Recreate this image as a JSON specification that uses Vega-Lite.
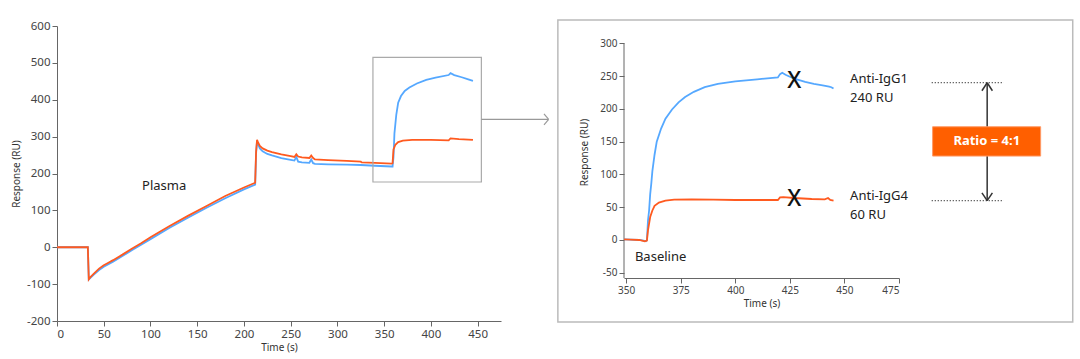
{
  "$schema": "https://vega.github.io/schema/vega-lite/v6.json",
  "background": "white",
  "padding": {"left": 11, "top": 19, "right": 0, "bottom": 0},
  "autosize": {"type": "pad"},
  "spacing": 7,
  "config": {
    "view": {"stroke": null},
    "font": "Noto Sans",
    "axis": {"grid": false, "domainColor": "#666", "tickColor": "#666", "labelColor": "#444", "titleColor": "#333", "labelFont": "Noto Sans", "titleFont": "Noto Sans", "titleFontWeight": "normal", "titleFontSize": 10, "tickSize": 5, "labelPadding": 2, "labelExpr": "datum.value < 0 ? '-' + abs(datum.value) : '' + datum.value"}
  },
  "datasets": {
    "left": [
      {"t": 0, "v": 0, "s": "IgG1"}, {"t": 33, "v": 0, "s": "IgG1"}, {"t": 34, "v": -87, "s": "IgG1"}, {"t": 36, "v": -82, "s": "IgG1"}, {"t": 40, "v": -73, "s": "IgG1"}, {"t": 45, "v": -62, "s": "IgG1"}, {"t": 50, "v": -53, "s": "IgG1"}, {"t": 60, "v": -39, "s": "IgG1"}, {"t": 70, "v": -24, "s": "IgG1"}, {"t": 80, "v": -8, "s": "IgG1"}, {"t": 90, "v": 7, "s": "IgG1"}, {"t": 100, "v": 22, "s": "IgG1"}, {"t": 120, "v": 52, "s": "IgG1"}, {"t": 140, "v": 80, "s": "IgG1"}, {"t": 160, "v": 107, "s": "IgG1"}, {"t": 180, "v": 133, "s": "IgG1"}, {"t": 200, "v": 157, "s": "IgG1"}, {"t": 212, "v": 170, "s": "IgG1"}, {"t": 213, "v": 255, "s": "IgG1"}, {"t": 214, "v": 287, "s": "IgG1"}, {"t": 215, "v": 280, "s": "IgG1"}, {"t": 217, "v": 268, "s": "IgG1"}, {"t": 220, "v": 260, "s": "IgG1"}, {"t": 225, "v": 253, "s": "IgG1"}, {"t": 230, "v": 249, "s": "IgG1"}, {"t": 240, "v": 242, "s": "IgG1"}, {"t": 250, "v": 237, "s": "IgG1"}, {"t": 254, "v": 235, "s": "IgG1"}, {"t": 256, "v": 245, "s": "IgG1"}, {"t": 258, "v": 232, "s": "IgG1"}, {"t": 262, "v": 230, "s": "IgG1"}, {"t": 270, "v": 229, "s": "IgG1"}, {"t": 272, "v": 238, "s": "IgG1"}, {"t": 274, "v": 228, "s": "IgG1"}, {"t": 276, "v": 226, "s": "IgG1"}, {"t": 290, "v": 225, "s": "IgG1"}, {"t": 310, "v": 224, "s": "IgG1"}, {"t": 325, "v": 223, "s": "IgG1"}, {"t": 340, "v": 221, "s": "IgG1"}, {"t": 358, "v": 219, "s": "IgG1"}, {"t": 359, "v": 219, "s": "IgG1"}, {"t": 360, "v": 245, "s": "IgG1"}, {"t": 361, "v": 309, "s": "IgG1"}, {"t": 363, "v": 360, "s": "IgG1"}, {"t": 365, "v": 392, "s": "IgG1"}, {"t": 368, "v": 410, "s": "IgG1"}, {"t": 372, "v": 424, "s": "IgG1"}, {"t": 377, "v": 433, "s": "IgG1"}, {"t": 385, "v": 444, "s": "IgG1"}, {"t": 395, "v": 454, "s": "IgG1"}, {"t": 405, "v": 460, "s": "IgG1"}, {"t": 419, "v": 467, "s": "IgG1"}, {"t": 421, "v": 472, "s": "IgG1"}, {"t": 425, "v": 467, "s": "IgG1"}, {"t": 433, "v": 461, "s": "IgG1"}, {"t": 440, "v": 455, "s": "IgG1"}, {"t": 445, "v": 451, "s": "IgG1"},
      {"t": 0, "v": 0, "s": "IgG4"}, {"t": 33, "v": 0, "s": "IgG4"}, {"t": 34, "v": -87, "s": "IgG4"}, {"t": 36, "v": -80, "s": "IgG4"}, {"t": 40, "v": -70, "s": "IgG4"}, {"t": 45, "v": -58, "s": "IgG4"}, {"t": 50, "v": -49, "s": "IgG4"}, {"t": 55, "v": -42, "s": "IgG4"}, {"t": 60, "v": -35, "s": "IgG4"}, {"t": 70, "v": -20, "s": "IgG4"}, {"t": 80, "v": -4, "s": "IgG4"}, {"t": 90, "v": 11, "s": "IgG4"}, {"t": 100, "v": 27, "s": "IgG4"}, {"t": 120, "v": 57, "s": "IgG4"}, {"t": 140, "v": 85, "s": "IgG4"}, {"t": 160, "v": 112, "s": "IgG4"}, {"t": 180, "v": 139, "s": "IgG4"}, {"t": 200, "v": 162, "s": "IgG4"}, {"t": 212, "v": 175, "s": "IgG4"}, {"t": 213, "v": 260, "s": "IgG4"}, {"t": 214, "v": 291, "s": "IgG4"}, {"t": 215, "v": 285, "s": "IgG4"}, {"t": 217, "v": 275, "s": "IgG4"}, {"t": 220, "v": 268, "s": "IgG4"}, {"t": 225, "v": 262, "s": "IgG4"}, {"t": 230, "v": 258, "s": "IgG4"}, {"t": 240, "v": 252, "s": "IgG4"}, {"t": 250, "v": 247, "s": "IgG4"}, {"t": 254, "v": 245, "s": "IgG4"}, {"t": 256, "v": 252, "s": "IgG4"}, {"t": 258, "v": 246, "s": "IgG4"}, {"t": 262, "v": 244, "s": "IgG4"}, {"t": 270, "v": 242, "s": "IgG4"}, {"t": 272, "v": 249, "s": "IgG4"}, {"t": 274, "v": 242, "s": "IgG4"}, {"t": 276, "v": 238, "s": "IgG4"}, {"t": 290, "v": 236, "s": "IgG4"}, {"t": 310, "v": 234, "s": "IgG4"}, {"t": 325, "v": 232, "s": "IgG4"}, {"t": 326, "v": 230, "s": "IgG4"}, {"t": 340, "v": 229, "s": "IgG4"}, {"t": 358, "v": 227, "s": "IgG4"}, {"t": 359, "v": 228, "s": "IgG4"}, {"t": 360, "v": 265, "s": "IgG4"}, {"t": 362, "v": 278, "s": "IgG4"}, {"t": 365, "v": 285, "s": "IgG4"}, {"t": 370, "v": 289, "s": "IgG4"}, {"t": 380, "v": 291, "s": "IgG4"}, {"t": 400, "v": 291, "s": "IgG4"}, {"t": 419, "v": 290, "s": "IgG4"}, {"t": 421, "v": 295, "s": "IgG4"}, {"t": 430, "v": 293, "s": "IgG4"}, {"t": 440, "v": 292, "s": "IgG4"}, {"t": 445, "v": 291, "s": "IgG4"}
    ],
    "right": [
      {"t": 349, "v": 1, "s": "IgG1"}, {"t": 352, "v": 0.5, "s": "IgG1"}, {"t": 356, "v": 0, "s": "IgG1"}, {"t": 358, "v": -1, "s": "IgG1"}, {"t": 359, "v": -2, "s": "IgG1"}, {"t": 359.5, "v": 0, "s": "IgG1"}, {"t": 360, "v": 30, "s": "IgG1"}, {"t": 360.5, "v": 45, "s": "IgG1"}, {"t": 361, "v": 70, "s": "IgG1"}, {"t": 361.5, "v": 86, "s": "IgG1"}, {"t": 362, "v": 105, "s": "IgG1"}, {"t": 363, "v": 130, "s": "IgG1"}, {"t": 364, "v": 150, "s": "IgG1"}, {"t": 366, "v": 170, "s": "IgG1"}, {"t": 368, "v": 185, "s": "IgG1"}, {"t": 371, "v": 199, "s": "IgG1"}, {"t": 374, "v": 210, "s": "IgG1"}, {"t": 377, "v": 218, "s": "IgG1"}, {"t": 381, "v": 226, "s": "IgG1"}, {"t": 386, "v": 233, "s": "IgG1"}, {"t": 392, "v": 238, "s": "IgG1"}, {"t": 400, "v": 242, "s": "IgG1"}, {"t": 410, "v": 245, "s": "IgG1"}, {"t": 419.5, "v": 248, "s": "IgG1"}, {"t": 420.5, "v": 253, "s": "IgG1"}, {"t": 421.5, "v": 255, "s": "IgG1"}, {"t": 423, "v": 252, "s": "IgG1"}, {"t": 427, "v": 246, "s": "IgG1"}, {"t": 432, "v": 241, "s": "IgG1"}, {"t": 436, "v": 238, "s": "IgG1"}, {"t": 440, "v": 236, "s": "IgG1"}, {"t": 443, "v": 234, "s": "IgG1"}, {"t": 444, "v": 233, "s": "IgG1"}, {"t": 445, "v": 231, "s": "IgG1"},
      {"t": 349, "v": 1, "s": "IgG4"}, {"t": 352, "v": 0.5, "s": "IgG4"}, {"t": 356, "v": 0, "s": "IgG4"}, {"t": 358.5, "v": -2, "s": "IgG4"}, {"t": 359.5, "v": -1, "s": "IgG4"}, {"t": 360, "v": 15, "s": "IgG4"}, {"t": 360.5, "v": 25, "s": "IgG4"}, {"t": 361, "v": 35, "s": "IgG4"}, {"t": 362, "v": 45, "s": "IgG4"}, {"t": 363, "v": 52, "s": "IgG4"}, {"t": 365, "v": 57, "s": "IgG4"}, {"t": 368, "v": 60, "s": "IgG4"}, {"t": 372, "v": 61.5, "s": "IgG4"}, {"t": 380, "v": 62, "s": "IgG4"}, {"t": 390, "v": 61.5, "s": "IgG4"}, {"t": 400, "v": 61, "s": "IgG4"}, {"t": 410, "v": 61, "s": "IgG4"}, {"t": 419.5, "v": 61, "s": "IgG4"}, {"t": 420.5, "v": 65, "s": "IgG4"}, {"t": 422, "v": 65.5, "s": "IgG4"}, {"t": 427, "v": 64, "s": "IgG4"}, {"t": 435, "v": 62.5, "s": "IgG4"}, {"t": 441, "v": 62, "s": "IgG4"}, {"t": 442.5, "v": 64, "s": "IgG4"}, {"t": 443.5, "v": 61, "s": "IgG4"}, {"t": 445, "v": 60, "s": "IgG4"}
    ]
  },
  "hconcat": [
    {
      "width": 444,
      "height": 295,
      "encoding": {
        "x": {"type": "quantitative", "scale": {"domain": [0, 475], "nice": false, "zero": false}, "axis": {"values": [0, 50, 100, 150, 200, 250, 300, 350, 400, 450], "title": "Time (s)", "labelFontSize": 11.5, "titlePadding": 3}},
        "y": {"type": "quantitative", "scale": {"domain": [-200, 600], "nice": false, "zero": false}, "axis": {"values": [-200, -100, 0, 100, 200, 300, 400, 500, 600], "title": "Response (RU)", "labelFontSize": 11.5, "titlePadding": 5}}
      },
      "layer": [
        {
          "data": {"name": "left"},
          "mark": {"type": "line", "strokeWidth": 1.8, "clip": false},
          "encoding": {
            "x": {"field": "t"},
            "y": {"field": "v"},
            "color": {"field": "s", "type": "nominal", "scale": {"domain": ["IgG1", "IgG4"], "range": ["#55A8FF", "#FF5A1F"]}, "legend": null}
          }
        },
        {
          "data": {"values": [{"a": 338, "b": 454, "c": 177, "d": 515}]},
          "mark": {"type": "rect", "fill": null, "fillOpacity": 0, "stroke": "#aaaaaa", "strokeWidth": 1.2, "clip": false},
          "encoding": {"x": {"field": "a"}, "x2": {"field": "b"}, "y": {"field": "c"}, "y2": {"field": "d"}}
        },
        {
          "data": {"values": [{"a": 454, "b": 525.5, "c": 347, "d": 347}, {"a": 521, "b": 526, "c": 362, "d": 347}, {"a": 521, "b": 526, "c": 332, "d": 347}]},
          "mark": {"type": "rule", "stroke": "#999999", "strokeWidth": 1.2, "clip": false},
          "encoding": {"x": {"field": "a"}, "x2": {"field": "b"}, "y": {"field": "c"}, "y2": {"field": "d"}}
        },
        {
          "data": {"values": [{"a": 91, "c": 167, "txt": "Plasma"}]},
          "mark": {"type": "text", "align": "left", "baseline": "middle", "fontSize": 13, "color": "#222"},
          "encoding": {"x": {"field": "a"}, "y": {"field": "c"}, "text": {"field": "txt"}}
        }
      ]
    },
    {
      "width": 275,
      "height": 252,
      "encoding": {
        "x": {"type": "quantitative", "scale": {"domain": [349, 475], "nice": false, "zero": false}, "axis": {"values": [350, 375, 400, 425, 450, 475], "title": "Time (s)", "labelFontSize": 10, "titlePadding": 3}},
        "y": {"type": "quantitative", "scale": {"domain": [-58, 326.4], "nice": false, "zero": false}, "axis": {"values": [-50, 0, 50, 100, 150, 200, 250, 300], "title": "Response (RU)", "labelFontSize": 10, "titlePadding": 10, "domain": false}}
      },
      "layer": [
        {
          "data": {"values": [{"a": 318.7, "b": 554.6, "c": -125, "d": 335.6}]},
          "mark": {"type": "rect", "fill": null, "fillOpacity": 0, "stroke": "#bbbbbb", "strokeWidth": 1.5, "clip": false},
          "encoding": {"x": {"field": "a"}, "x2": {"field": "b"}, "y": {"field": "c"}, "y2": {"field": "d"}}
        },
        {
          "data": {"values": [{"a": 349, "c": -58, "d": 300}]},
          "mark": {"type": "rule", "stroke": "#666", "strokeWidth": 1, "clip": false},
          "encoding": {"x": {"field": "a"}, "y": {"field": "c"}, "y2": {"field": "d"}}
        },
        {
          "data": {"name": "right"},
          "mark": {"type": "line", "strokeWidth": 1.8},
          "encoding": {
            "x": {"field": "t"},
            "y": {"field": "v"},
            "color": {"field": "s", "type": "nominal", "scale": {"domain": ["IgG1", "IgG4"], "range": ["#55A8FF", "#FF5A1F"]}, "legend": null}
          }
        },
        {
          "data": {"values": [{"a": 427, "c": 243, "txt": "X"}, {"a": 427, "c": 62, "txt": "X"}]},
          "mark": {"type": "text", "align": "center", "baseline": "middle", "fontSize": 23, "fontWeight": 500, "color": "#111"},
          "encoding": {"x": {"field": "a"}, "y": {"field": "c"}, "text": {"field": "txt"}}
        },
        {
          "data": {"values": [{"a": 452.6, "c": 245.5, "txt": "Anti-IgG1"}, {"a": 452.6, "c": 216.5, "txt": "240 RU"}, {"a": 452.6, "c": 66.5, "txt": "Anti-IgG4"}, {"a": 452.6, "c": 38, "txt": "60 RU"}, {"a": 354, "c": -26, "txt": "Baseline"}]},
          "mark": {"type": "text", "align": "left", "baseline": "middle", "fontSize": 13, "color": "#222", "clip": false},
          "encoding": {"x": {"field": "a"}, "y": {"field": "c"}, "text": {"field": "txt"}}
        },
        {
          "data": {"values": [{"a": 490, "b": 523, "c": 240, "d": 240}, {"a": 490, "b": 523, "c": 60, "d": 60}]},
          "mark": {"type": "rule", "stroke": "#333", "strokeWidth": 1.2, "strokeDash": [1, 2], "clip": false},
          "encoding": {"x": {"field": "a"}, "x2": {"field": "b"}, "y": {"field": "c"}, "y2": {"field": "d"}}
        },
        {
          "data": {"values": [{"a": 515.4, "b": 515.4, "c": 60, "d": 240}, {"a": 513, "b": 515.4, "c": 227.6, "d": 239.8}, {"a": 517.8, "b": 515.4, "c": 227.6, "d": 239.8}, {"a": 513, "b": 515.4, "c": 71.8, "d": 60}, {"a": 517.8, "b": 515.4, "c": 71.8, "d": 60}]},
          "mark": {"type": "rule", "stroke": "#333", "strokeWidth": 1.5, "clip": false},
          "encoding": {"x": {"field": "a"}, "x2": {"field": "b"}, "y": {"field": "c"}, "y2": {"field": "d"}}
        },
        {
          "data": {"values": [{"a": 490.4, "b": 539.9, "c": 128, "d": 172.7}]},
          "mark": {"type": "rect", "fill": "#FF5F00", "stroke": "#FF9A66", "strokeWidth": 1, "clip": false},
          "encoding": {"x": {"field": "a"}, "x2": {"field": "b"}, "y": {"field": "c"}, "y2": {"field": "d"}}
        },
        {
          "data": {"values": [{"a": 515.2, "c": 150.4, "txt": "Ratio = 4:1"}]},
          "mark": {"type": "text", "align": "center", "baseline": "middle", "fontSize": 13, "fontWeight": "bold", "color": "white", "clip": false},
          "encoding": {"x": {"field": "a"}, "y": {"field": "c"}, "text": {"field": "txt"}}
        }
      ]
    }
  ]
}
